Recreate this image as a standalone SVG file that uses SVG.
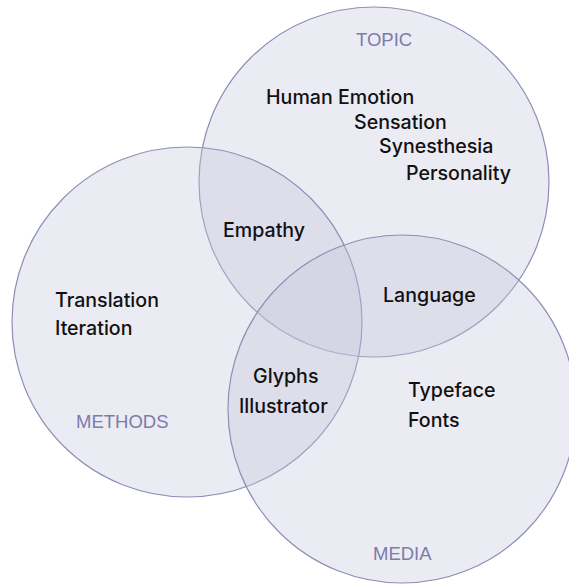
<svg xmlns="http://www.w3.org/2000/svg" width="569" height="584" viewBox="0 0 569 584">
  <style>
    .set { fill: #c6c7dc; fill-opacity: 0.35; stroke: #8e8eb8; stroke-width: 1.2; }
    .title { font-family: "Liberation Sans", Arial, sans-serif; font-size: 18.5px; fill: #7c7caa; }
    .item { font-family: Inter, "Liberation Sans", Arial, sans-serif; font-weight: 500; font-size: 19.6px; fill: #111111; }
  </style>
  <rect width="569" height="584" fill="#ffffff"/>

  <!-- TOPIC set -->
  <g id="topic">
    <circle class="set" cx="374" cy="182" r="175"/>
    <text class="title" x="356" y="46">TOPIC</text>
    <text class="item" x="266" y="104">Human Emotion</text>
    <text class="item" x="354" y="129">Sensation</text>
    <text class="item" x="379" y="153">Synesthesia</text>
    <text class="item" x="406" y="180">Personality</text>
  </g>

  <!-- METHODS set -->
  <g id="methods">
    <circle class="set" cx="187" cy="322" r="175"/>
    <text class="title" x="76" y="428">METHODS</text>
    <text class="item" x="55" y="307">Translation</text>
    <text class="item" x="55" y="335">Iteration</text>
  </g>

  <!-- MEDIA set -->
  <g id="media">
    <circle class="set" cx="402" cy="409" r="174"/>
    <text class="title" x="373" y="560">MEDIA</text>
    <text class="item" x="408" y="397">Typeface</text>
    <text class="item" x="408" y="427">Fonts</text>
  </g>

  <!-- overlap labels -->
  <g id="topic-methods">
    <text class="item" x="223" y="237">Empathy</text>
  </g>
  <g id="topic-media">
    <text class="item" x="383" y="302">Language</text>
  </g>
  <g id="methods-media">
    <text class="item" x="253" y="383">Glyphs</text>
    <text class="item" x="239" y="413">Illustrator</text>
  </g>

  <g id="connectors"/>
</svg>
